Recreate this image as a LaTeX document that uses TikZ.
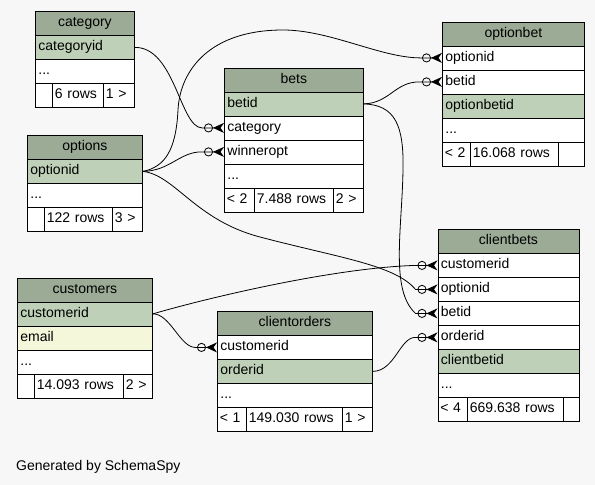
\documentclass[tikz,border=0pt]{standalone}
\usepackage{fontspec}
\setmainfont{Liberation Sans}
\usetikzlibrary{arrows.meta}

\definecolor{canvas}{HTML}{F7F7F7}
\definecolor{hdrgreen}{HTML}{9BAB96}
\definecolor{pkgreen}{HTML}{BED1B8}
\definecolor{idxyellow}{HTML}{F4F7DA}

\tikzset{
  cell/.style={draw=black, line width=0.8pt, anchor=north west,
    minimum height=24pt, inner ysep=0pt, inner xsep=3pt,
    text height=10.5pt, text depth=3.5pt, align=left,
    font=\fontsize{14}{16}\selectfont},
  headcell/.style={cell, fill=hdrgreen, align=center},
  footcell/.style={cell, fill=white, inner xsep=2.5pt},
  fk/.style={draw=black, line width=0.8pt,
    -{Circle[open,length=9pt,width=9pt] Stealth[reversed,length=11pt,width=10pt,inset=3.5pt]}}
}

% table header: name, left x, top y, width, title
\newcommand\thead[5]{%
  \pgfmathsetmacro\tw{#4-6}%
  \node[headcell, text width=\tw pt] (#1) at (#2,#3) {#5};}
% table row: name, left x, top y, width, fill, text
\newcommand\trow[6]{%
  \pgfmathsetmacro\tw{#4-6}%
  \node[cell, fill=#5, text width=\tw pt] (#1) at (#2,#3) {#6};}
% footer cell: name, left x, top y, width, text
\newcommand\fcell[5]{%
  \pgfmathsetmacro\tw{#4-5}%
  \node[footcell, text width=\tw pt] (#1) at (#2,#3) {#5};}

\begin{document}
\begin{tikzpicture}[x=1pt, y=-1pt]
  \fill[canvas] (0,0) rectangle (595,485);
  \useasboundingbox (0,0) rectangle (595,485);

  % category
  \thead{cat}{35}{11}{99}{category}
  \trow{cat-categoryid}{35}{35}{99}{pkgreen}{categoryid}
  \trow{cat-more}{35}{59}{99}{white}{...}
  \fcell{cat-f1}{35}{83}{17}{}
  \fcell{cat-f2}{52}{83}{51}{6 rows}
  \fcell{cat-f3}{103}{83}{31}{1 >}

  % bets
  \thead{bets}{224}{67.5}{139}{bets}
  \trow{bets-betid}{224}{91.5}{139}{pkgreen}{betid}
  \trow{bets-category}{224}{115.5}{139}{white}{category}
  \trow{bets-winneropt}{224}{139.5}{139}{white}{winneropt}
  \trow{bets-more}{224}{163.5}{139}{white}{...}
  \fcell{bets-f1}{224}{187.5}{30}{< 2}
  \fcell{bets-f2}{254}{187.5}{79}{7.488 rows}
  \fcell{bets-f3}{333}{187.5}{30}{2 >}

  % optionbet
  \thead{ob}{442}{21.5}{142}{optionbet}
  \trow{ob-optionid}{442}{45.5}{142}{white}{optionid}
  \trow{ob-betid}{442}{69.5}{142}{white}{betid}
  \trow{ob-optionbetid}{442}{93.5}{142}{pkgreen}{optionbetid}
  \trow{ob-more}{442}{117.5}{142}{white}{...}
  \fcell{ob-f1}{442}{141.5}{28}{< 2}
  \fcell{ob-f2}{470}{141.5}{88}{16.068 rows}
  \fcell{ob-f3}{558}{141.5}{26}{}

  % options
  \thead{opt}{27}{135}{115}{options}
  \trow{opt-optionid}{27}{159}{115}{pkgreen}{optionid}
  \trow{opt-more}{27}{183}{115}{white}{...}
  \fcell{opt-f1}{27}{207}{17}{}
  \fcell{opt-f2}{44}{207}{68}{122 rows}
  \fcell{opt-f3}{112}{207}{30}{3 >}

  % customers
  \thead{cust}{17}{277.5}{135}{customers}
  \trow{cust-customerid}{17}{301.5}{135}{pkgreen}{customerid}
  \trow{cust-email}{17}{325.5}{135}{idxyellow}{email}
  \trow{cust-more}{17}{349.5}{135}{white}{...}
  \fcell{cust-f1}{17}{373.5}{17}{}
  \fcell{cust-f2}{34}{373.5}{89}{14.093 rows}
  \fcell{cust-f3}{123}{373.5}{29}{2 >}

  % clientorders
  \thead{co}{217}{311}{155}{clientorders}
  \trow{co-customerid}{217}{335}{155}{white}{customerid}
  \trow{co-orderid}{217}{359}{155}{pkgreen}{orderid}
  \trow{co-more}{217}{383}{155}{white}{...}
  \fcell{co-f1}{217}{407}{29}{< 1}
  \fcell{co-f2}{246}{407}{96}{149.030 rows}
  \fcell{co-f3}{342}{407}{30}{1 >}

  % clientbets
  \thead{cb}{437.5}{229}{141}{clientbets}
  \trow{cb-customerid}{437.5}{253}{141}{white}{customerid}
  \trow{cb-optionid}{437.5}{277}{141}{white}{optionid}
  \trow{cb-betid}{437.5}{301}{141}{white}{betid}
  \trow{cb-orderid}{437.5}{325}{141}{white}{orderid}
  \trow{cb-clientbetid}{437.5}{349}{141}{pkgreen}{clientbetid}
  \trow{cb-more}{437.5}{373}{141}{white}{...}
  \fcell{cb-f1}{437.5}{397}{29.5}{< 4}
  \fcell{cb-f2}{467}{397}{96}{669.638 rows}
  \fcell{cb-f3}{563}{397}{15.5}{}

  % foreign keys
  \draw[fk] (cat-categoryid.east) .. controls (175,47) and (180,127.5)
    .. ([xshift=-22pt]bets-category.west) -- (bets-category.west);
  \draw[fk] (opt-optionid.east) .. controls (170,171) and (180,151.5)
    .. ([xshift=-22pt]bets-winneropt.west) -- (bets-winneropt.west);
  \draw[fk] (opt-optionid.east) .. controls (165,167) and (176,150) .. (178,110)
    .. controls (180,70) and (210,30) .. (283,30)
    .. controls (330,30) and (380,57.5)
    .. ([xshift=-22pt]ob-optionid.west) -- (ob-optionid.west);
  \draw[fk] (opt-optionid.east) .. controls (175,175) and (195,220) .. (260,237)
    .. controls (340,258) and (395,265)
    .. ([xshift=-22pt]cb-optionid.west) -- (cb-optionid.west);
  \draw[fk] (bets-betid.east) .. controls (390,103) and (395,81.5)
    .. ([xshift=-22pt]ob-betid.west) -- (ob-betid.west);
  \draw[fk] (bets-betid.east) .. controls (395,105) and (404,125) .. (403,170)
    .. controls (402,230) and (390,290)
    .. ([xshift=-22pt]cb-betid.west) -- (cb-betid.west);
  \draw[fk] (cust-customerid.east) .. controls (200,300) and (330,268)
    .. ([xshift=-22pt]cb-customerid.west) -- (cb-customerid.west);
  \draw[fk] (cust-customerid.east) .. controls (170,313.5) and (180,347)
    .. ([xshift=-22pt]co-customerid.west) -- (co-customerid.west);
  \draw[fk] (co-orderid.east) .. controls (395,371) and (400,337)
    .. ([xshift=-22pt]cb-orderid.west) -- (cb-orderid.west);

  \node[anchor=base west, inner sep=0pt, font=\fontsize{14}{16}\selectfont]
    (credit) at (16,470) {Generated by SchemaSpy};
\end{tikzpicture}
\end{document}
